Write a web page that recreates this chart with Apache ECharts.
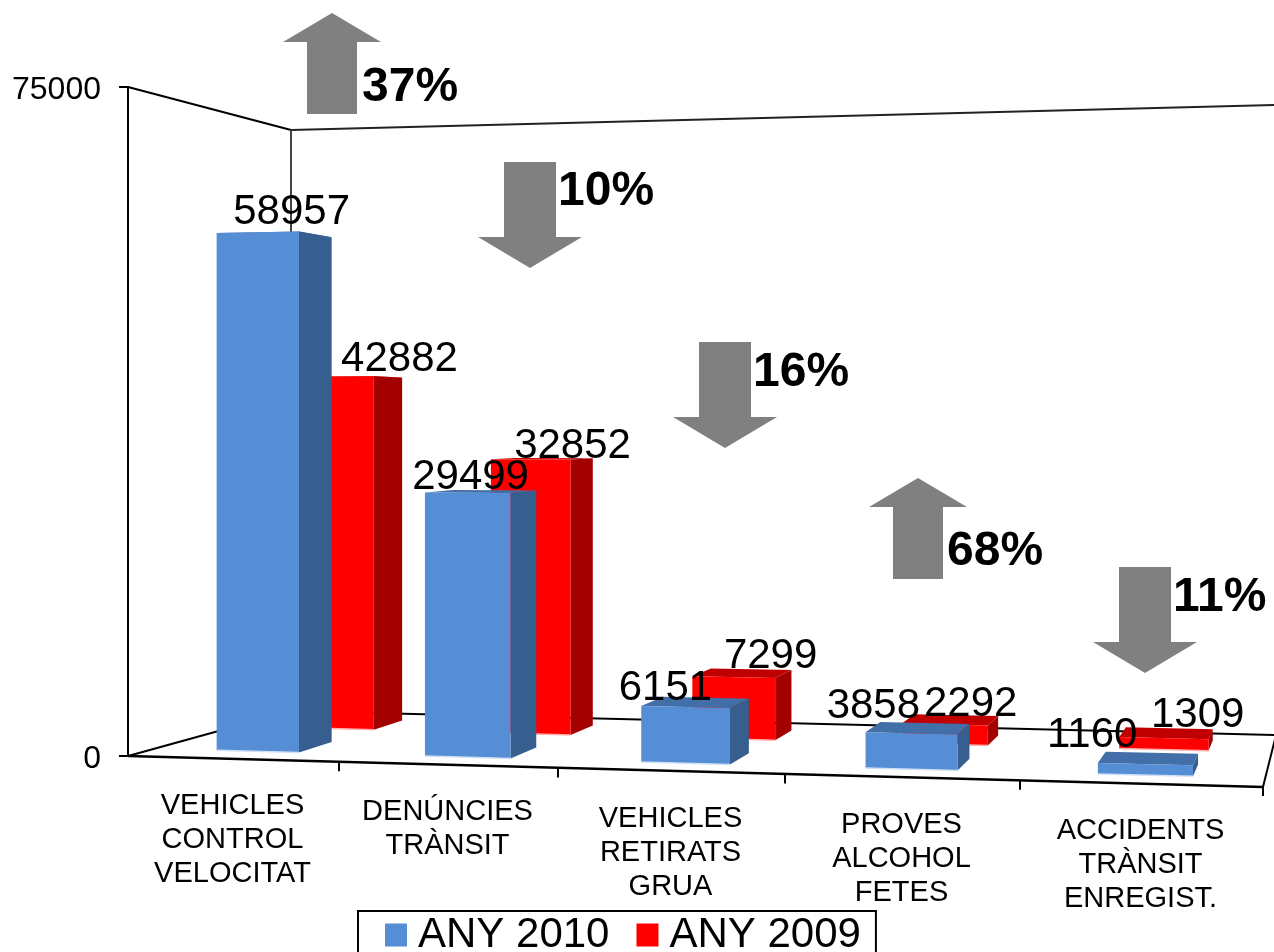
<!DOCTYPE html>
<html lang="ca">

<head>
    <meta charset="UTF-8">
    <title>Controls 2010 - 2009</title>
    <style>
        html, body { margin: 0; padding: 0; background: #fff; overflow: hidden; }
    </style>
</head>

<body>
    <div id="chart" style="width:1274px;height:952px;"></div>
    <script src="https://cdn.jsdelivr.net/npm/echarts@6/dist/echarts.min.js"></script>
    <script>
        var categories = [
            'VEHICLES\nCONTROL\nVELOCITAT',
            'DENÚNCIES\nTRÀNSIT',
            'VEHICLES\nRETIRATS\nGRUA',
            'PROVES\nALCOHOL\nFETES',
            'ACCIDENTS\nTRÀNSIT\nENREGIST.'
        ];
        var values2010 = [58957, 29499, 6151, 3858, 1160];
        var values2009 = [42882, 32852, 7299, 2292, 1309];
        var axisMax = 75000;
        var changes = ['37%', '10%', '16%', '68%', '11%'];
        var changeUp = [true, false, false, true, false];

        // where the data labels sit relative to the bar front, the source chart drifts them
        var labelShift2010 = [[34, -20], [3, -15], [-20, -19], [-38, -27], [-53, -29]];
        var labelShift2009 = [[64, -17], [42, -13], [37, -21], [26, -20], [34, -23]];

        // arrows: centre x, top y, label x (left), label y
        var arrowX = [332, 530, 725, 918, 1145];
        var arrowTop = [13, 162, 342, 478, 567];
        var changeLabelX = [362, 558, 753, 947, 1173];
        var changeLabelY = [88, 192, 373, 552, 598];

        var FONT = '"Liberation Sans", Arial, sans-serif';

        // fake 3d floor: u = position along the categories (0..5), d = depth (0 front, 1 back), v = value / max
        function makeProject(cs) {
            var bottom = cs.y + cs.height;
            return function (u, d, v) {
                var frontX = cs.x + 207 * u + 4 * u * u;
                var x = frontX + d * (163 - 30 * u);
                var frontY = bottom + 31 * u / 5;
                var backY = bottom - 45 + 24 * u / 5;
                var frontH = cs.height + 13 * u;
                var backH = cs.height - 88 + 9.8 * u;
                var y = frontY + (backY - frontY) * d - v * (frontH + (backH - frontH) * d);
                return [x, y];
            };
        }

        function poly(points, color, z2) {
            return { type: 'polygon', z2: z2, shape: { points: points }, style: { fill: color } };
        }

        function makeBar(depth, thick, nudge, colors, shifts) {
            return function (params, api) {
                var cs = params.coordSys;
                var project = makeProject(cs);
                var i = api.value(0);
                var value = api.value(1);
                var band = api.size([1, 0])[0];
                var pos = api.coord([i, value]);
                var uc = (pos[0] - cs.x) / band + nudge;
                var v = (cs.y + cs.height - pos[1]) / cs.height;
                var u0 = uc - 0.2, u1 = uc + 0.2;
                var d0 = depth, d1 = depth + thick;
                var frontTop = project((u0 + u1) / 2, d0, v);
                return {
                    type: 'group',
                    children: [
                        poly([project(u0, d0, v), project(u1, d0, v), project(u1, d1, v), project(u0, d1, v)], colors.top, 1),
                        poly([project(u1, d0, 0), project(u1, d1, 0), project(u1, d1, v), project(u1, d0, v)], colors.side, 1),
                        poly([project(u0, d0, 0), project(u1, d0, 0), project(u1, d0, v), project(u0, d0, v)], colors.front, 2),
                        {
                            type: 'line', z2: 3,
                            shape: (function () {
                                var a = project(u0, d0, 0), b = project(u1, d0, 0);
                                return { x1: a[0], y1: a[1], x2: b[0], y2: b[1] };
                            })(),
                            style: { stroke: colors.edge, lineWidth: 1.5 }
                        },
                        {
                            type: 'text', z2: 10,
                            style: {
                                x: frontTop[0] + shifts[i][0],
                                y: frontTop[1] + shifts[i][1],
                                text: String(value),
                                fill: '#000',
                                font: '42px ' + FONT,
                                align: 'center',
                                verticalAlign: 'middle'
                            }
                        }
                    ]
                };
            };
        }

        function seg(a, b, color, width) {
            return {
                type: 'line',
                shape: { x1: a[0], y1: a[1], x2: b[0], y2: b[1] },
                style: { stroke: color, lineWidth: width }
            };
        }

        function renderFrame(params, api) {
            var cs = params.coordSys;
            var project = makeProject(cs);
            var band = api.size([1, 0])[0];
            var children = [
                seg(project(0, 0, 1), project(0, 1, 1), '#000', 2),
                seg(project(0, 1, 1), project(5, 1, 1), '#222', 2),
                seg(project(0, 1, 0), project(0, 1, 1), '#444', 2),
                seg(project(0, 0, 0), project(0, 1, 0), '#000', 2),
                seg(project(0, 1, 0), project(5, 1, 0), '#000', 2),
                seg(project(5, 0, 0), project(5, 1, 0), '#000', 2),
                seg(project(0, 0, 0), project(5, 0, 0), '#000', 2.5)
            ];
            for (var t = 1; t <= 5; t++) {
                var p = project(t, 0, 0);
                children.push(seg(p, [p[0], p[1] + 9], '#000', 2));
            }
            categories.forEach(function (name, i) {
                var u = (api.coord([i, 0])[0] - cs.x) / band;
                var p = project(u, 0, 0);
                children.push({
                    type: 'text',
                    style: {
                        x: p[0],
                        y: p[1] + 30,
                        text: name,
                        fill: '#000',
                        font: '29px ' + FONT,
                        lineHeight: 34,
                        align: 'center',
                        verticalAlign: 'top'
                    }
                });
            });
            return { type: 'group', children: children };
        }

        function arrowPoints(cx, top, up) {
            if (up) {
                return [[cx, top], [cx + 49, top + 29], [cx + 25, top + 29], [cx + 25, top + 101],
                    [cx - 25, top + 101], [cx - 25, top + 29], [cx - 49, top + 29]];
            }
            return [[cx - 26, top], [cx + 26, top], [cx + 26, top + 75], [cx + 52, top + 75],
                [cx, top + 106], [cx - 52, top + 75], [cx - 26, top + 75]];
        }

        var arrows = [];
        changes.forEach(function (txt, i) {
            arrows.push({
                type: 'polygon',
                z: 20,
                shape: { points: arrowPoints(arrowX[i], arrowTop[i], changeUp[i]) },
                style: { fill: '#808080' }
            });
            arrows.push({
                type: 'text',
                z: 21,
                x: changeLabelX[i],
                y: changeLabelY[i],
                style: {
                    text: txt,
                    fill: '#000',
                    font: 'bold 48px ' + FONT,
                    align: 'left',
                    verticalAlign: 'middle'
                }
            });
        });

        var blue = { front: '#558ed5', side: '#365f8f', top: '#436fa8', edge: '#cfe0f5' };
        var red = { front: '#ff0000', side: '#a50000', top: '#c00000', edge: '#ffb0b0' };

        var option = {
            animation: false,
            backgroundColor: '#fff',
            grid: { left: 128, top: 87, width: 1135, height: 669 },
            xAxis: { type: 'category', data: categories, show: false },
            yAxis: {
                type: 'value',
                min: 0,
                max: axisMax,
                interval: axisMax,
                axisLine: { show: true, lineStyle: { color: '#000', width: 2 } },
                axisTick: { show: true, length: 9, lineStyle: { color: '#000', width: 2 } },
                axisLabel: {
                    color: '#000',
                    margin: 27,
                    formatter: function (val) { return '{n|' + val + '}'; },
                    rich: {
                        n: { color: '#000', fontFamily: 'Liberation Sans', fontSize: 32, padding: [6, 0, 0, 0] }
                    }
                },
                splitLine: { show: false }
            },
            legend: {
                left: 358,
                top: 911,
                data: ['ANY 2010', 'ANY 2009'],
                icon: 'rect',
                itemWidth: 22,
                itemHeight: 23,
                itemGap: 27,
                padding: [3, 15, 10, 27],
                borderColor: '#000',
                borderWidth: 2,
                backgroundColor: '#fff',
                textStyle: { color: '#000', fontFamily: 'Liberation Sans', fontSize: 42, padding: [0, 0, 0, 6] }
            },
            graphic: { elements: arrows },
            series: [
                {
                    type: 'custom',
                    z: 1,
                    silent: true,
                    renderItem: renderFrame,
                    data: [[0, 0]],
                    encode: { x: 0, y: 1 }
                },
                {
                    type: 'custom',
                    name: 'ANY 2009',
                    z: 2,
                    itemStyle: { color: '#ff0000' },
                    renderItem: makeBar(0.67, 0.2, 0.02, red, labelShift2009),
                    data: values2009.map(function (v, i) { return [i, v]; }),
                    encode: { x: 0, y: 1 }
                },
                {
                    type: 'custom',
                    name: 'ANY 2010',
                    z: 3,
                    itemStyle: { color: '#558ed5' },
                    renderItem: makeBar(0.17, 0.23, 0, blue, labelShift2010),
                    data: values2010.map(function (v, i) { return [i, v]; }),
                    encode: { x: 0, y: 1 }
                }
            ]
        };

        var chart = echarts.init(document.getElementById('chart'));
        chart.setOption(option);
    </script>
</body>

</html>
